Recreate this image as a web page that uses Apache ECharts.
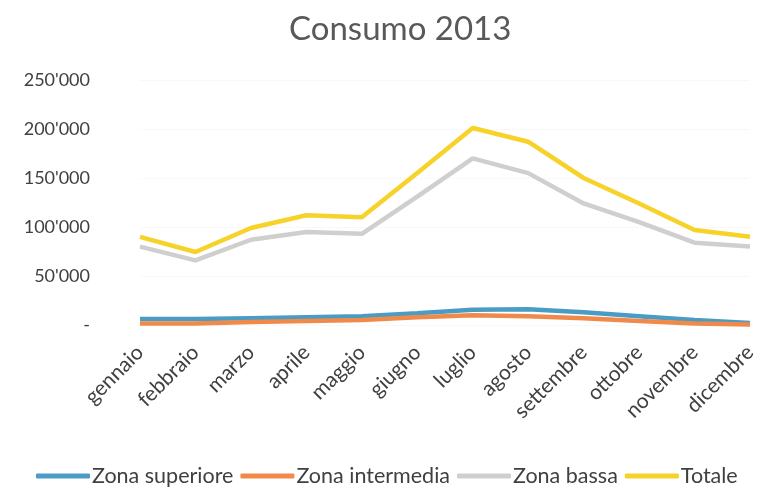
<!DOCTYPE html>
<html>
<head>
<meta charset="utf-8">
<script src="https://cdn.jsdelivr.net/npm/echarts@6/dist/echarts.min.js"></script>
<style>
  html, body { margin: 0; padding: 0; background: #fff; }
  #chart { width: 761px; height: 488px; }
</style>
</head>
<body>
<div id="chart"></div>
<script>
const months = ['gennaio', 'febbraio', 'marzo', 'aprile', 'maggio', 'giugno',
  'luglio', 'agosto', 'settembre', 'ottobre', 'novembre', 'dicembre']
const zonaSuperiore = [6000, 6000, 7000, 8000, 9000, 12000, 15500, 16000, 13000, 9000, 5000, 2000]
const zonaIntermedia = [1500, 1500, 3000, 4000, 5000, 8000, 10000, 9000, 7000, 4000, 1500, 500]
const zonaBassa = [80000, 66000, 87000, 95000, 93000, 131000, 170000, 155000, 124000, 105000, 84000, 80000]
const totale = [90000, 74500, 99000, 112000, 110000, 155000, 201000, 187000, 150000, 124000, 97000, 90000]

const font = 'Lato, "Open Sans", sans-serif'
const chart = echarts.init(document.getElementById('chart'))

function series(name, data, color) {
  return {
    name, type: 'line', data,
    symbol: 'none',
    lineStyle: { color, width: 4.5 },
    itemStyle: { color }
  }
}

chart.setOption({
  animation: false,
  title: {
    text: 'Consumo 2013',
    left: 284,
    top: 8,
    textStyle: { fontFamily: font, fontSize: 33, fontWeight: 'normal', color: '#595959' }
  },
  legend: {
    top: 465,
    left: 36,
    width: 725,
    padding: 0,
    icon: 'roundRect',
    itemWidth: 54,
    itemHeight: 5,
    itemGap: 7,
    textStyle: { fontFamily: font, fontSize: 21.5, color: '#404040', padding: [0, 0, 0, -3] },
    data: ['Zona superiore', 'Zona intermedia', 'Zona bassa', 'Totale']
  },
  grid: { left: 140, right: 11, top: 80, bottom: 163 },
  xAxis: {
    type: 'category',
    data: months,
    boundaryGap: false,
    axisLine: { show: false },
    axisTick: { show: false },
    axisLabel: { rotate: 45, fontFamily: font, fontSize: 21, color: '#404040', margin: 24 }
  },
  yAxis: {
    type: 'value',
    min: 0,
    max: 250000,
    interval: 50000,
    splitLine: { lineStyle: { color: '#f2f2f2', type: 'dotted' } },
    axisLabel: {
      fontFamily: font, fontSize: 18, color: '#404040', margin: 50,
      formatter: v => v === 0 ? '-' : String(v / 1000) + "'000"
    }
  },
  series: [
    series('Zona superiore', zonaSuperiore, '#4a9cc4'),
    series('Zona intermedia', zonaIntermedia, '#f08a4b'),
    series('Zona bassa', zonaBassa, '#cfcfcf'),
    series('Totale', totale, '#f7d22a')
  ]
})
</script>
</body>
</html>
